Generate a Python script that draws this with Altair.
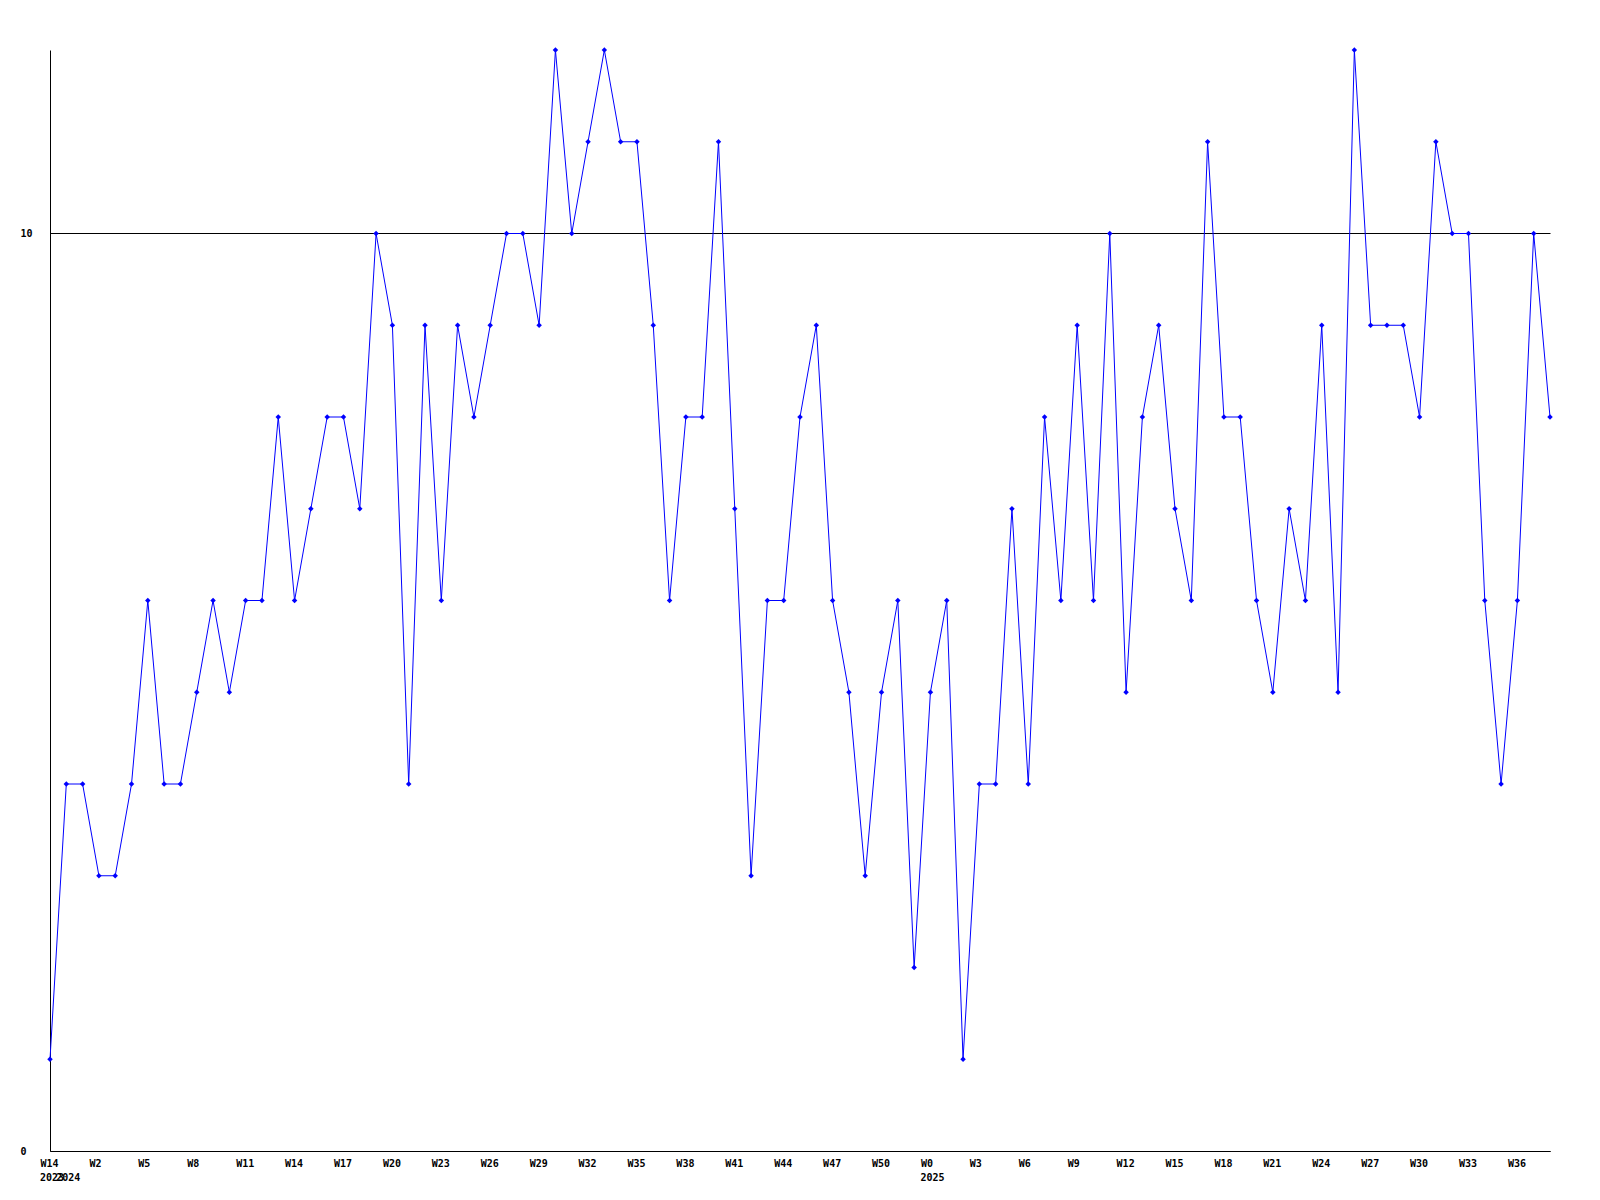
import json
import altair as alt
import pandas as pd

# weekly values, index 0..92
values = [1, 4, 4, 3, 3, 4, 6, 4, 4, 5,
          6, 5, 6, 6, 8, 6, 7, 8, 8, 7,
          10, 9, 4, 9, 6, 9, 8, 9, 10, 10,
          9, 12, 10, 11, 12, 11, 11, 9, 6, 8,
          8, 11, 7, 3, 6, 6, 8, 9, 6, 5,
          3, 5, 6, 2, 5, 6, 1, 4, 4, 7,
          4, 8, 6, 9, 6, 10, 5, 8, 9, 7,
          6, 11, 8, 8, 6, 5, 7, 6, 9, 5,
          12, 9, 9, 9, 8, 11, 10, 10, 6, 4,
          6, 10, 8]

# tick labels every 3 weeks (positions 0, 3, 6, ...)
week_labels = ["W14", "W2", "W5", "W8", "W11", "W14", "W17", "W20", "W23", "W26",
               "W29", "W32", "W35", "W38", "W41", "W44", "W47", "W50", "W0", "W3",
               "W6", "W9", "W12", "W15", "W18", "W21", "W24", "W27", "W30", "W33", "W36"]
tick_pos = [3 * k for k in range(len(week_labels))]

year_labels = ["2023", "2024", "2025"]
year_pos = [0, 1, 54]

y_ticks = [0, 10]

W, H = 1500, 1101
FONT = "DejaVu Sans Mono"

df = pd.DataFrame({"i": list(range(len(values))), "v": values})
ydf = pd.DataFrame({"i": year_pos, "t": year_labels})

label_expr = json.dumps(week_labels).replace('"', "'") + "[round(datum.value / 3)]"

x_enc = alt.X(
    "i:Q",
    scale=alt.Scale(domain=[0, len(values) - 1], nice=False, zero=False),
    axis=alt.Axis(
        values=tick_pos,
        labelExpr=label_expr,
        grid=False,
        ticks=False,
        domainColor="black",
        domainWidth=1,
        labelAlign="left",
        labelBaseline="top",
        labelOffset=-10,
        labelPadding=7,
        labelFont=FONT,
        labelFontSize=10,
        labelFontWeight="bold",
        labelColor="black",
        labelOverlap=False,
        labelFlush=False,
        title=None,
    ),
)

y_enc = alt.Y(
    "v:Q",
    scale=alt.Scale(domain=[0, 12], nice=False, zero=True),
    axis=alt.Axis(
        values=y_ticks,
        grid=True,
        gridColor="black",
        gridOpacity=1,
        gridWidth=1,
        ticks=False,
        domainColor="black",
        domainWidth=1,
        labelAlign="left",
        labelBaseline="middle",
        labelPadding=30,
        labelFont=FONT,
        labelFontSize=10,
        labelFontWeight="bold",
        labelColor="black",
        title=None,
    ),
)

line = alt.Chart(df).mark_line(
    color="#0000ff",
    strokeWidth=1,
    point=alt.OverlayMarkDef(shape="diamond", filled=True, size=30, color="#0000ff"),
).encode(x=x_enc, y=y_enc)

years = alt.Chart(ydf).mark_text(
    align="left",
    baseline="top",
    dx=-10,
    font=FONT,
    fontSize=10,
    fontWeight="bold",
    color="black",
).encode(
    x=alt.X("i:Q"),
    y=alt.value(H + 22),
    text="t:N",
)

chart = alt.layer(line, years).properties(
    width=W,
    height=H,
    autosize=alt.AutoSizeParams(type="none"),
    padding={"left": 42, "top": 42, "right": 42, "bottom": 44},
    background="white",
).configure_view(stroke=None)

chart.save("out.html", embed_options={"renderer": "svg", "actions": False})
